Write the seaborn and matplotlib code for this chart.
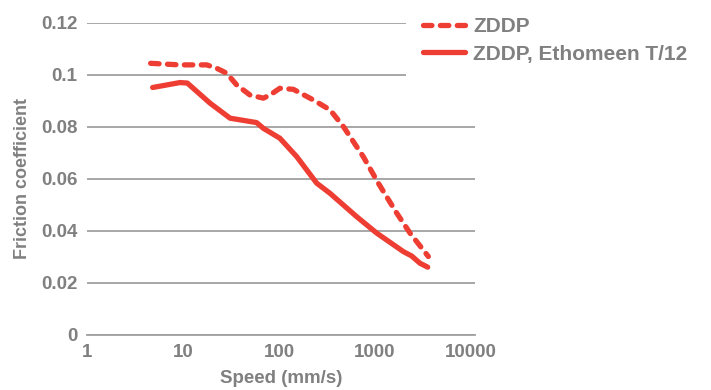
import numpy as np
import pandas as pd
import matplotlib
matplotlib.use('Agg')
import matplotlib.pyplot as plt
import seaborn as sns

# Data
zddp_speed = [4.6, 9.3, 17.7, 22.4, 28.5, 36.2, 49.9, 68.7, 80.5, 102, 141, 228, 340, 468, 755, 1083, 1683, 2316, 3594]
zddp_friction = [0.1043, 0.1037, 0.1037, 0.1024, 0.1005, 0.0960, 0.0921, 0.0909, 0.0921, 0.0947, 0.0943,
                 0.0902, 0.0864, 0.0800, 0.0684, 0.0582, 0.0467, 0.0390, 0.0300]

eth_speed = [4.83, 9.3, 11.1, 19.1, 30.9, 58.5, 68.7, 102, 153, 247, 340, 645, 1042, 1972, 2410, 2943, 3540]
eth_friction = [0.0950, 0.0969, 0.0967, 0.0890, 0.0832, 0.0815, 0.0793, 0.0755, 0.0684, 0.0582, 0.0543,
                0.0453, 0.0390, 0.0319, 0.0302, 0.0274, 0.0259]

series_names = ['ZDDP', 'ZDDP, Ethomeen T/12']
y_ticks = [0, 0.02, 0.04, 0.06, 0.08, 0.1, 0.12]
y_tick_labels = ['0', '0.02', '0.04', '0.06', '0.08', '0.1', '0.12']
x_ticks = [1, 10, 100, 1000, 10000]
x_tick_labels = ['1', '10', '100', '1000', '10000']

df = pd.concat([
    pd.DataFrame({'speed': zddp_speed, 'friction': zddp_friction, 'series': series_names[0]}),
    pd.DataFrame({'speed': eth_speed, 'friction': eth_friction, 'series': series_names[1]}),
])

sns.set_style('white')
plt.rcParams['font.family'] = ['Liberation Sans', 'DejaVu Sans']
plt.rcParams['font.weight'] = 'bold'

red = '#ee3e33'
gray = '#808080'

fig = plt.figure(figsize=(7.11, 3.9), dpi=100)
ax = fig.add_axes([87 / 711, (390 - 334.5) / 390, (475 - 87) / 711, 312 / 390])

sns.lineplot(data=df[df['series'] == series_names[0]], x='speed', y='friction', ax=ax,
             color=red, lw=3.8, label=series_names[0], estimator=None, sort=False)
sns.lineplot(data=df[df['series'] == series_names[1]], x='speed', y='friction', ax=ax,
             color=red, lw=3.8, label=series_names[1], estimator=None, sort=False)

line_d = ax.lines[0]
line_d.set_linestyle((0, (1.6, 1.6)))
line_d.set_dash_capstyle('round')
line_d.set_solid_capstyle('round')
ax.lines[1].set_solid_capstyle('round')

ax.set_xscale('log')
ax.set_xlim(1, 10000 * 10 ** (4 / 96))
ax.set_ylim(0, 0.12)
ax.set_xticks(x_ticks)
ax.set_xticklabels(x_tick_labels)
ax.xaxis.set_minor_locator(matplotlib.ticker.NullLocator())
ax.set_yticks(y_ticks)
ax.set_yticklabels(y_tick_labels)

ax.grid(axis='y', color='#a0a0a0', lw=1.3)
ax.grid(axis='x', visible=False)
ax.set_axisbelow(True)
for s in ['top', 'right', 'left']:
    ax.spines[s].set_visible(False)
ax.spines['bottom'].set_color('#a0a0a0')
ax.spines['bottom'].set_linewidth(1.3)

ax.tick_params(axis='both', length=0, labelsize=13.5, labelcolor=gray)
ax.tick_params(axis='y', pad=7)
ax.tick_params(axis='x', pad=7)
for t in ax.get_xticklabels() + ax.get_yticklabels():
    t.set_fontweight('bold')

ax.set_xlabel('Speed (mm/s)', fontsize=13.5, color=gray, fontweight='bold', labelpad=6)
ax.set_ylabel('Friction coefficient', fontsize=13, color=gray, fontweight='bold', labelpad=7)

leg = ax.legend(loc='upper left', bbox_to_anchor=(396 / 711, 1.026), bbox_transform=fig.transFigure,
                fontsize=15, frameon=True, facecolor='white', edgecolor='none', framealpha=1,
                borderpad=0.8, handlelength=2.0, handletextpad=0.4, labelspacing=0.42)
for t in leg.get_texts():
    t.set_color(gray)
    t.set_fontweight('bold')
leg.get_lines()[0].set_dash_capstyle('round')

fig.savefig('out.png', dpi=100, facecolor='white')
